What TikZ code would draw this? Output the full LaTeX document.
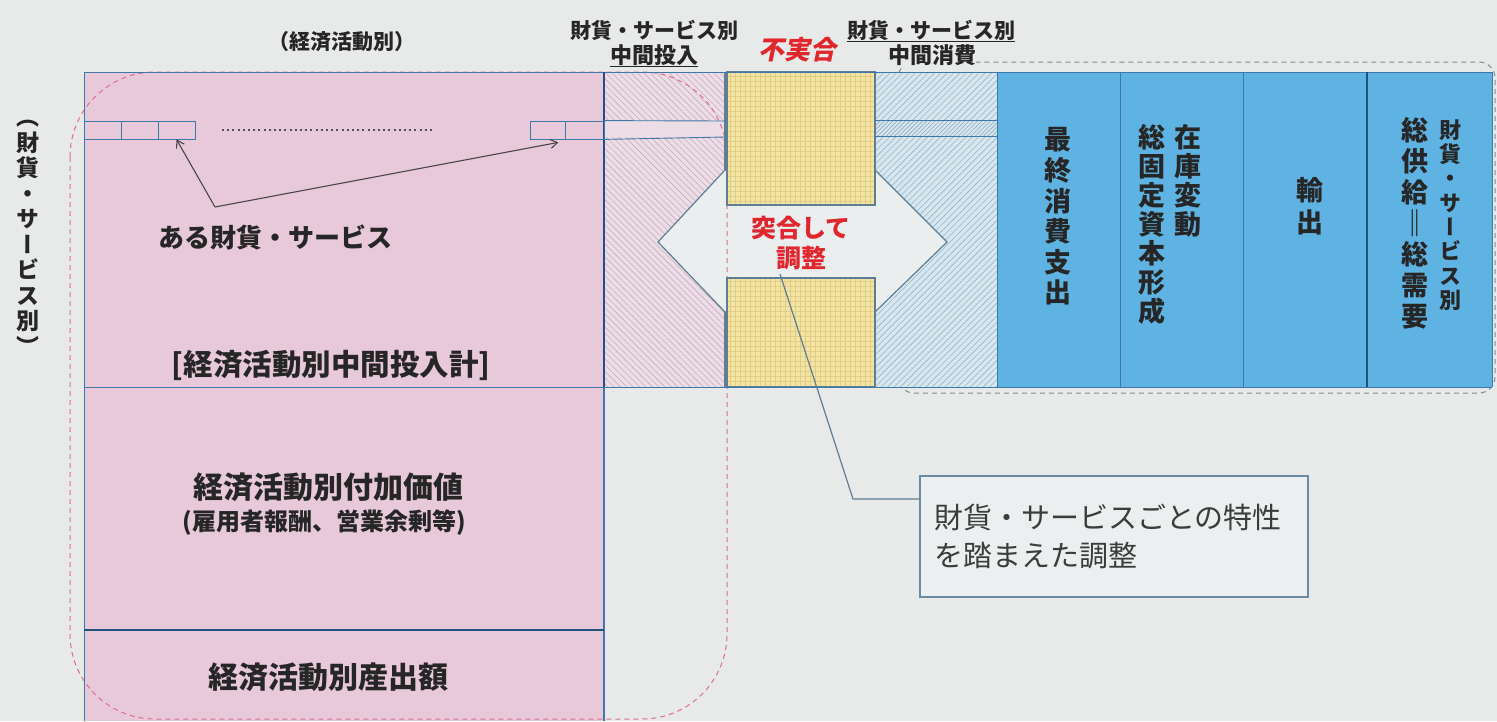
\documentclass[tikz,border=0pt]{standalone}
\usepackage{fontspec}
\usepackage{graphicx}
\usetikzlibrary{arrows.meta,patterns.meta,calc}
\newfontfamily\jp{Noto Sans CJK JP}
\newfontfamily\jpv{Noto Sans CJK JP}[RawFeature=+vert]
\newfontfamily\jpsl{Noto Sans CJK JP}[FakeSlant=0.2]
\newcommand\Fs[2]{\fontsize{#1pt}{#2pt}\selectfont}
\definecolor{bgc}{HTML}{E7EAE8}
\definecolor{pinkc}{HTML}{E8C9DA}
\definecolor{pinkh}{HTML}{EDDDE6}
\definecolor{pinkl}{HTML}{C6ADBE}
\definecolor{yelc}{HTML}{F3E4A4}
\definecolor{yell}{HTML}{E0CC84}
\definecolor{blueh}{HTML}{D6E7EF}
\definecolor{bluel}{HTML}{9AB3C4}
\definecolor{bluec}{HTML}{5FB3E2}
\definecolor{edgec}{HTML}{3E78A8}
\definecolor{darkc}{HTML}{23507C}
\definecolor{pinkd}{HTML}{DE6E8E}
\definecolor{grayd}{HTML}{7D8A93}
\definecolor{hexc}{HTML}{EAEEEE}
\definecolor{hexl}{HTML}{5E7E96}
\definecolor{redc}{HTML}{E2262E}
\definecolor{ink}{HTML}{262626}
\definecolor{notec}{HTML}{EBEFEF}
\definecolor{notel}{HTML}{6A8CA2}
\begin{document}
\begin{tikzpicture}[x=1pt,y=-1pt,
  txt/.style={text=ink, inner sep=0pt, align=center},
  vt/.style={text=ink, inner sep=0pt, align=center},
  edge/.style={draw=edgec, line width=1pt},
  thickedge/.style={draw=darkc, line width=2.6pt},
  cell/.style={draw=edgec, line width=0.8pt, minimum height=18pt, inner sep=0pt},
  arr/.style={-{Straight Barb[length=7pt,width=9pt]}, line width=1.1pt, draw=ink!85},
  leader/.style={draw=hexl, line width=1.2pt},
  ul/.style={draw=ink, line width=1.2pt},
  notebox/.style={draw=notel, line width=1.5pt, fill=notec, text=ink!90, align=left,
    inner xsep=14pt, inner ysep=0pt, text width=360pt, minimum height=121pt}
]
\useasboundingbox (0,0) rectangle (1497,721);
\fill[bgc] (0,0) rectangle (1497,721);

% right group dashed outline
\draw[grayd, line width=1pt, dash pattern=on 5pt off 4pt, rounded corners=16] (898,62) rectangle (1495,393);

% pink block
\fill[pinkc] (84,72) rectangle (604,721);
% pink hatched column
\fill[pinkh] (604,72) rectangle (725,387);
\fill[pattern={Lines[angle=-45,distance=4.5pt,line width=0.6pt]}, pattern color=pinkl] (604,72) rectangle (725,387);
\fill[pinkh] (604,121) rectangle (725,137);
% blue hatched column
\fill[blueh] (875,72) rectangle (997,387);
\fill[pattern={Lines[angle=45,distance=4.5pt,line width=0.6pt]}, pattern color=bluel] (875,72) rectangle (997,387);
\fill[blueh] (875,120) rectangle (997,136);
\fill[pattern={Lines[angle=45,distance=3pt,line width=0.8pt]}, pattern color=bluel] (875,120) rectangle (997,136);

% hexagon double arrow
\filldraw[fill=hexc, draw=hexl, line width=1.2pt] (725,170) -- (875,170) -- (947,242) -- (875,312) -- (725,312) -- (658,242) -- cycle;

% pink dashed outline (left group)
\draw[pinkd, line width=1pt, dash pattern=on 5pt off 4pt, rounded corners=85] (70,72) rectangle (727,719);

% yellow blocks
\fill[yelc] (727,72) rectangle (875,205);
\fill[pattern={Hatch[angle=0,distance=5pt,line width=0.5pt]}, pattern color=yell] (727,72) rectangle (875,205);
\fill[yelc] (727,278) rectangle (875,387);
\fill[pattern={Hatch[angle=0,distance=5pt,line width=0.5pt]}, pattern color=yell] (727,278) rectangle (875,387);
\draw[draw=hexl, line width=1.2pt] (727,72) rectangle (875,205);
\draw[draw=hexl, line width=1.2pt] (727,278) rectangle (875,387);
\draw[draw=hexl, line width=1.2pt] (725,72) -- (725,170);
\draw[draw=hexl, line width=1.2pt] (725,312) -- (725,387);

% blue solid block
\fill[bluec] (997,72) rectangle (1492,387);

% border lines
\draw[edge] (84,72) -- (1492,72);
\draw[edge] (84,72) -- (84,721);
\draw[edge] (84,387) -- (1492,387);
\draw[thickedge] (604,72) -- (604,387);
\draw[edge, line width=1.3pt] (604,387) -- (604,721);
\draw[thickedge] (84,630) -- (604,630);
\draw[edge] (997,72) -- (997,387);
\draw[edge] (1120,72) -- (1120,387);
\draw[edge] (1243,72) -- (1243,387);
\draw[thickedge] (1367,72) -- (1367,387);
\draw[edge] (1492,72) -- (1492,387);

% strip of one good/service
\node[cell, minimum width=37pt] (c1) at (102.5,130) {};
\node[cell, minimum width=37pt] (c2) at (139.5,130) {};
\node[cell, minimum width=37pt] (c3) at (176.5,130) {};
\node[cell, minimum width=35pt] (r1) at (547.5,130) {};
\node[cell, minimum width=39pt] (r2) at (584.5,130) {};
\draw[edge, line width=0.9pt] (r2.north east) -- (725,121);
\draw[edge, line width=0.9pt] (r2.south east) -- (725,137);
\draw[edge, line width=0.9pt] (875,120) -- (997,120);
\draw[edge, line width=0.9pt] (875,136) -- (997,136);
\coordinate (dotA) at (222,130);
\coordinate (dotB) at (435,130);
\draw[ink!80, line width=2pt, dash pattern=on 2pt off 3.2pt] (dotA) -- (dotB);

% top labels
\node[txt, font=\jp\bfseries\Fs{21}{21}] (topE) at (342,42) {（経済活動別）};
\node[txt, font=\jp\bfseries\Fs{21}{21}] (l1a) at (654,30) {財貨・サービス別};
\node[txt, font=\jp\bfseries\Fs{22}{22}] (l1b) at (654,55) {中間投入};
\draw[ul] ([yshift=-1pt]l1b.south west) -- ([yshift=-1pt]l1b.south east);
\node[txt, text=redc, font=\jpsl\bfseries\Fs{26}{26}] (mis) at (797,50) {不実合};
\node[txt, font=\jp\bfseries\Fs{21}{21}] (l2a) at (931,30) {財貨・サービス別};
\draw[ul] ([yshift=-1pt]l2a.south west) -- ([yshift=-1pt]l2a.south east);
\node[txt, fill=bgc, font=\jp\bfseries\Fs{22}{22}] (l2b) at (932,55) {中間消費};

% left vertical label
\node[vt, font=\jpv\bfseries\Fs{23}{25.5}] (vleft) at (28,238) {（\\財\\貨\\・\\サ\\ー\\ビ\\ス\\別\\）};

% pink block texts
\node[txt, font=\jp\bfseries\Fs{26}{26}] (some) at (275,237) {ある財貨・サービス};
\coordinate (src) at (215,207);
\draw[arr] (src) -- (c3.south);
\draw[arr] (src) -- ($(r1.south east)+(-7,3)$);
\node[txt, font=\jp\bfseries\Fs{29.5}{29.5}] (iisum) at (331,365) {[経済活動別中間投入計]};
\node[txt, font=\jp\bfseries\Fs{30}{30}] (va) at (328,487) {経済活動別付加価値};
\node[txt, font=\jp\bfseries\Fs{24}{24}] (va2) at (324,523) {(雇用者報酬、営業余剰等)};
\node[txt, font=\jp\bfseries\Fs{30}{30}] (out) at (328,677) {経済活動別産出額};

% centre texts
\node[txt, text=redc, font=\jp\bfseries\Fs{25}{30}] (adj) at (801,243) {突合して\\調整};

% blue column texts
\node[vt, font=\jpv\bfseries\Fs{27}{30.6}] (fc) at (1058,216.5) {最\\終\\消\\費\\支\\出};
\node[vt, font=\jpv\bfseries\Fs{27}{29}] (inv) at (1188,180.5) {在\\庫\\変\\動};
\node[vt, font=\jpv\bfseries\Fs{27}{29}] (gfcf) at (1152,224) {総\\固\\定\\資\\本\\形\\成};
\node[vt, font=\jpv\bfseries\Fs{27}{32}] (exp) at (1310,206) {輸\\出};
\node[vt, font=\jpv\bfseries\Fs{22}{24.3}] (tsa) at (1450,215) {財\\貨\\・\\サ\\ー\\ビ\\ス\\別};
\node[vt, font=\jpv\bfseries\Fs{27}{31}] (tsb) at (1415,223) {総\\供\\給\\‖\\総\\需\\要};

% callout
\node[notebox, font=\jp\Fs{29}{38}] (note) at (1114,536.5) {財貨・サービスごとの特性\\を踏まえた調整};
\coordinate (ldA) at (780,274);
\coordinate (ldB) at (853,499);
\draw[leader] (ldA) -- (ldB) -- (note.west |- ldB);
\end{tikzpicture}
\end{document}
